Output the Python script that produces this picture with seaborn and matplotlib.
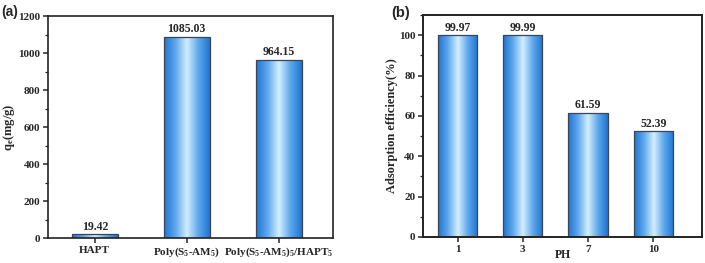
import numpy as np
import pandas as pd
import seaborn as sns
import matplotlib.pyplot as plt
from matplotlib.colors import LinearSegmentedColormap
from matplotlib.ticker import MultipleLocator

sns.set_theme(style='ticks')
plt.rcParams['font.family'] = ['Liberation Serif', 'DejaVu Serif']
plt.rcParams['font.weight'] = 'bold'
plt.rcParams['mathtext.fontset'] = 'custom'
plt.rcParams['mathtext.rm'] = 'Liberation Serif:bold'
plt.rcParams['mathtext.bf'] = 'Liberation Serif:bold'
plt.rcParams['mathtext.it'] = 'Liberation Serif:bold'
plt.rcParams['mathtext.default'] = 'bf'

# datos panel (a)
materiales = ['HAPT', 'Poly(S$_5$-AM$_5$)', 'Poly(S$_5$-AM$_5$)$_5$/HAPT$_5$']
qe = [19.42, 1085.03, 964.15]
# datos panel (b)
ph = ['1', '3', '7', '10']
eficiencia = [99.97, 99.99, 61.59, 52.39]

df_a = pd.DataFrame({'material': materiales, 'qe': qe})
df_b = pd.DataFrame({'ph': ph, 'ef': eficiencia})

cmap = LinearSegmentedColormap.from_list(
    'azul', ['#1f73d2', '#5ea8ec', '#d4eefe', '#5ea8ec', '#1f73d2'])
grad = np.linspace(0, 1, 256).reshape(1, -1)


def degradado(ax):
    for p in ax.patches:
        x0, y0 = p.get_x(), p.get_y()
        w, h = p.get_width(), p.get_height()
        im = ax.imshow(grad, cmap=cmap, aspect='auto',
                       extent=(x0, x0 + w, y0, y0 + h), zorder=p.get_zorder() + 0.1)
        im.set_clip_path(p)
        p.set_facecolor('none')
        p.set_zorder(p.get_zorder() + 0.2)


def estilo(ax, lw):
    for s in ax.spines.values():
        s.set_visible(True)
        s.set_linewidth(lw)
        s.set_color('#222222')
    ax.tick_params(axis='both', which='major', direction='out', length=3.5,
                   width=1.1, labelsize=8, pad=2)
    ax.tick_params(axis='y', which='minor', direction='out', length=2, width=0.9, left=True)
    ax.tick_params(axis='x', which='minor', bottom=False)


fig = plt.figure(figsize=(7.05, 2.63), dpi=100)
ax1 = fig.add_axes([0.068, 0.095, 0.404, 0.844])
ax2 = fig.add_axes([0.600, 0.099, 0.396, 0.844])

sns.barplot(data=df_a, x='material', y='qe', width=0.5, color='#3b8ee0',
            edgecolor='#3a4555', linewidth=0.9, ax=ax1)
degradado(ax1)
ax1.set_ylim(0, 1200)
ax1.set_xlim(-0.51, 2.59)
ax1.yaxis.set_major_locator(MultipleLocator(200))
ax1.yaxis.set_minor_locator(MultipleLocator(100))
ax1.set_xlabel('')
ax1.set_ylabel('q$_e$(mg/g)', fontsize=9, fontweight='bold')
ax1.yaxis.set_label_coords(-0.11, 0.5)
for i, v in enumerate(qe):
    ax1.text(i, v + 10, f'{v:.2f}', ha='center', va='bottom', fontsize=8.5, fontweight='bold')
estilo(ax1, 1.2)
fig.text(0.002, 0.94, '(a)', family=['Liberation Sans', 'DejaVu Sans'],
         fontsize=10, fontweight='bold')

sns.barplot(data=df_b, x='ph', y='ef', width=0.6, color='#3b8ee0',
            edgecolor='#3a4555', linewidth=0.9, ax=ax2)
degradado(ax2)
ax2.set_ylim(0, 110)
ax2.set_xlim(-0.53, 3.75)
ax2.yaxis.set_major_locator(MultipleLocator(20))
ax2.yaxis.set_minor_locator(MultipleLocator(10))
ax2.set_xlabel('PH', fontsize=8.5, fontweight='bold', labelpad=-3)
ax2.set_ylabel('Adsorption efficiency(%)', fontsize=9, fontweight='bold')
ax2.yaxis.set_label_coords(-0.09, 0.5)
for i, v in enumerate(eficiencia):
    ax2.text(i, v + 0.6, f'{v:.2f}', ha='center', va='bottom', fontsize=8.5, fontweight='bold')
estilo(ax2, 1.4)
fig.text(0.555, 0.935, '(b)', family=['Liberation Sans', 'DejaVu Sans'],
         fontsize=10.5, fontweight='bold')

fig.savefig('out.png', dpi=100)
